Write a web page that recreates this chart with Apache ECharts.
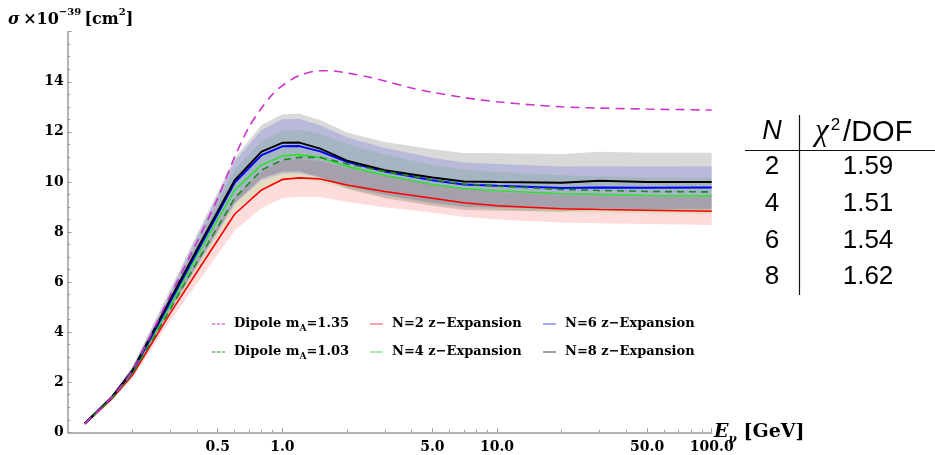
<!DOCTYPE html>
<html>
<head>
<meta charset="utf-8">
<script src="https://cdn.jsdelivr.net/npm/echarts@6/dist/echarts.min.js"></script>
<style>
  html, body { margin: 0; padding: 0; background: #fff; }
  #chart { width: 935px; height: 455px; }
</style>
</head>
<body>
<div id="chart"></div>
<script>
// Neutrino energy grid (GeV) used by the z-expansion fits and the mA = 1.03 dipole
const energyGeV = [0.12, 0.16, 0.2, 0.3, 0.4, 0.6, 0.8, 1.0, 1.2, 1.5, 2, 3, 5, 7, 10, 20, 30, 50, 100];

// Total cross sections in units of 10^-39 cm^2
const sigmaN2 = [0.33, 1.32, 2.28, 4.75, 6.40, 8.72, 9.68, 10.10, 10.16, 10.12, 9.88, 9.62, 9.35, 9.17, 9.05, 8.93, 8.90, 8.87, 8.83];
const sigmaN4 = [0.34, 1.36, 2.38, 5.05, 7.05, 9.68, 10.68, 11.04, 11.09, 10.97, 10.62, 10.27, 9.90, 9.74, 9.65, 9.53, 9.50, 9.46, 9.44];
const sigmaN6 = [0.35, 1.38, 2.42, 5.20, 7.20, 9.98, 11.07, 11.42, 11.43, 11.22, 10.80, 10.42, 10.07, 9.90, 9.85, 9.76, 9.78, 9.77, 9.78];
const sigmaN8 = [0.35, 1.39, 2.46, 5.30, 7.30, 10.07, 11.21, 11.56, 11.57, 11.33, 10.85, 10.47, 10.18, 10.02, 10.00, 9.97, 10.05, 10.00, 10.00];
const sigmaDipole103 = [0.34, 1.34, 2.34, 4.90, 6.80, 9.35, 10.47, 10.88, 10.98, 10.98, 10.72, 10.42, 10.08, 9.92, 9.83, 9.70, 9.66, 9.62, 9.60];

// Half-widths of the error bands of each z-expansion fit
const errN2 = [0.03, 0.07, 0.13, 0.30, 0.46, 0.66, 0.72, 0.75, 0.75, 0.72, 0.68, 0.63, 0.58, 0.56, 0.55, 0.55, 0.55, 0.55, 0.55];
const errN4 = [0.03, 0.08, 0.15, 0.36, 0.56, 0.82, 0.94, 1.00, 0.99, 0.95, 0.89, 0.83, 0.78, 0.76, 0.75, 0.74, 0.73, 0.72, 0.72];
const errN6 = [0.03, 0.08, 0.16, 0.38, 0.60, 0.86, 1.00, 1.08, 1.08, 1.04, 0.98, 0.93, 0.90, 0.88, 0.87, 0.86, 0.85, 0.85, 0.85];
const errN8 = [0.03, 0.08, 0.17, 0.40, 0.62, 0.90, 1.06, 1.14, 1.15, 1.14, 1.12, 1.12, 1.13, 1.14, 1.15, 1.15, 1.16, 1.17, 1.17];

// Dipole form factor with mA = 1.35 GeV, on a finer energy grid
const energyDipole135 = [0.12, 0.16, 0.2, 0.3, 0.4, 0.5, 0.6, 0.7, 0.8, 0.9, 1.0, 1.2, 1.5, 1.75, 2, 2.5, 3, 4, 5, 7, 10, 15, 20, 30, 50, 70, 100];
const sigmaDipole135 = [0.35, 1.39, 2.47, 5.45, 7.60, 9.35, 11.0, 12.2, 12.95, 13.5, 13.85, 14.25, 14.44, 14.43, 14.35, 14.2, 14.03, 13.75, 13.58, 13.37, 13.2, 13.07, 13.0, 12.95, 12.91, 12.89, 12.87];

// Axis ticks
const xMajorTicks = [0.5, 1, 5, 10, 50, 100];
const xAllTicks = [0.2, 0.3, 0.4, 0.5, 0.6, 0.7, 0.8, 0.9, 1, 2, 3, 4, 5, 6, 7, 8, 9, 10, 20, 30, 40, 50, 60, 70, 80, 90, 100];

// Fit quality table
const tableN = ['2', '4', '6', '8'];
const tableChi2 = ['1.59', '1.51', '1.54', '1.62'];

const SERIF = '"DejaVu Serif", "Liberation Serif", serif';
const SANS = '"Liberation Sans", "Noto Sans", sans-serif';

function pairs(xs, ys) { return xs.map((x, i) => [x, ys[i]]); }

function band(name, center, half, fill) {
  return {
    type: 'custom', name: name, silent: true, z: 1,
    data: [[energyGeV[0], center[0]]],
    renderItem: function (params, api) {
      const upper = energyGeV.map((e, i) => api.coord([e, center[i] + half[i]]));
      const lower = energyGeV.map((e, i) => api.coord([e, center[i] - half[i]])).reverse();
      return { type: 'polygon', shape: { points: upper.concat(lower) }, style: { fill: fill } };
    }
  };
}

function line(name, xs, ys, color, width, dash, smooth) {
  return {
    type: 'line', name: name, data: pairs(xs, ys), showSymbol: false, symbol: 'none',
    smooth: smooth || false, z: 3, silent: true,
    lineStyle: { color: color, width: width, type: dash || 'solid' }
  };
}

const tickFont = { fontFamily: SERIF, fontWeight: 'bold', fontSize: 14, color: '#000' };
const axisGray = '#9c9c9c';

const legendTextStyle = {
  fontFamily: SERIF, fontWeight: 'bold', fontSize: 13, color: '#000', lineHeight: 18,
  padding: [0, 0, 0, 4],
  rich: { sub: { fontFamily: SERIF, fontWeight: 'bold', fontSize: 9, verticalAlign: 'bottom', lineHeight: 13, color: '#000' } }
};
const dashIcon = 'path://M0,0H3V1H0Z M4.5,0H7.5V1H4.5Z M9,0H12V1H9Z';
function legendItem(name, icon, color) {
  return {
    name: name, icon: icon,
    itemStyle: { color: color, borderWidth: 0, borderColor: color },
    lineStyle: { width: 0, opacity: 0 }
  };
}
function legendBlock(left, items) {
  return {
    left: left, top: 310, orient: 'vertical', itemGap: 10, itemWidth: 13, itemHeight: 2,
    selectedMode: false, textStyle: legendTextStyle,
    formatter: n => n.replace('m_A', 'm{sub|A}'),
    data: items
  };
}

const chart = echarts.init(document.getElementById('chart'), null, { renderer: 'canvas' });

chart.setOption({
  animation: false,
  backgroundColor: '#fff',
  grid: { left: 67.7, right: 223.3, top: 31.7, bottom: 22.7 },
  xAxis: [
    {
      type: 'log', logBase: 10, min: 0.1, max: 100,
      axisLine: { lineStyle: { color: axisGray, width: 1.5 } },
      axisTick: { show: true, inside: true, length: 4, customValues: xMajorTicks, lineStyle: { color: axisGray, width: 1 } },
      axisLabel: { show: true, margin: 8, customValues: xMajorTicks, formatter: v => Number(v).toFixed(1), ...tickFont },
      splitLine: { show: false }, minorTick: { show: false }, minorSplitLine: { show: false }
    },
    {
      type: 'log', logBase: 10, min: 0.1, max: 100, position: 'bottom',
      axisLine: { show: false },
      axisTick: { show: true, inside: true, length: 2.5, customValues: xAllTicks, lineStyle: { color: axisGray, width: 1 } },
      axisLabel: { show: false },
      splitLine: { show: false }
    }
  ],
  yAxis: {
    type: 'value', min: 0, max: 16, interval: 2,
    axisLine: { show: true, lineStyle: { color: axisGray, width: 1.5 } },
    axisTick: { show: true, inside: true, length: 4, lineStyle: { color: axisGray, width: 1 } },
    minorTick: { show: true, splitNumber: 4, length: 2.5, lineStyle: { color: axisGray, width: 1 } },
    axisLabel: { margin: 4, formatter: v => (v >= 16 ? '' : String(v)), ...tickFont },
    splitLine: { show: false }, minorSplitLine: { show: false }
  },
  legend: [
    legendBlock(207, [
      legendItem('Dipole m_A=1.35', dashIcon, '#cc33cc'),
      legendItem('Dipole m_A=1.03', dashIcon, '#228b22')
    ]),
    legendBlock(365, [
      legendItem('N=2 z\u2212Expansion', 'rect', '#f5a6a6'),
      legendItem('N=4 z\u2212Expansion', 'rect', '#a9eca9')
    ]),
    legendBlock(538, [
      legendItem('N=6 z\u2212Expansion', 'rect', '#a9a9f2'),
      legendItem('N=8 z\u2212Expansion', 'rect', '#a3a3a3')
    ])
  ],
  series: [
    band('band N=2', sigmaN2, errN2, 'rgba(255,50,50,0.17)'),
    band('band N=4', sigmaN4, errN4, 'rgba(90,220,60,0.17)'),
    band('band N=6', sigmaN6, errN6, 'rgba(50,50,255,0.18)'),
    band('band N=8', sigmaN8, errN8, 'rgba(0,0,0,0.15)'),
    line('N=2 z\u2212Expansion', energyGeV, sigmaN2, '#ff0000', 1.6),
    line('N=4 z\u2212Expansion', energyGeV, sigmaN4, '#33dd33', 1.6),
    line('N=6 z\u2212Expansion', energyGeV, sigmaN6, '#0000ff', 2),
    line('N=8 z\u2212Expansion', energyGeV, sigmaN8, '#000000', 2),
    line('Dipole m_A=1.03', energyGeV, sigmaDipole103, '#1f8a1f', 1.6, [7, 5]),
    line('Dipole m_A=1.35', energyDipole135, sigmaDipole135, '#cc33cc', 1.6, [9, 6], 0.3)
  ],
  graphic: [
    // y-axis title
    {
      type: 'text', x: 8, y: 7, silent: true,
      style: {
        text: '{i|\u03c3} {b|\u00d710}{sup|\u221239} {b|[cm}{sup|2}{b|]}',
        align: 'left', verticalAlign: 'top',
        rich: {
          i: { fontFamily: SERIF, fontStyle: 'italic', fontWeight: 'bold', fontSize: 16, lineHeight: 21, verticalAlign: 'bottom', fill: '#000' },
          b: { fontFamily: SERIF, fontWeight: 'bold', fontSize: 16, lineHeight: 21, verticalAlign: 'bottom', fill: '#000' },
          sup: { fontFamily: SERIF, fontWeight: 'bold', fontSize: 10, lineHeight: 10, verticalAlign: 'top', fill: '#000' }
        }
      }
    },
    // x-axis title
    {
      type: 'text', x: 714, y: 423, silent: true,
      style: {
        text: '{i|E}{sub|\u03bd}{b| [GeV]}',
        align: 'left', verticalAlign: 'top',
        rich: {
          i: { fontFamily: SERIF, fontStyle: 'italic', fontWeight: 'bold', fontSize: 19, lineHeight: 23, verticalAlign: 'top', fill: '#000' },
          b: { fontFamily: SERIF, fontWeight: 'bold', fontSize: 19, lineHeight: 23, verticalAlign: 'top', fill: '#000' },
          sub: { fontFamily: SERIF, fontStyle: 'italic', fontWeight: 'bold', fontSize: 12, lineHeight: 12, verticalAlign: 'bottom', fill: '#000' }
        }
      }
    },
    // fit quality table
    { type: 'line', silent: true, shape: { x1: 745, y1: 150.5, x2: 935, y2: 150.5 }, style: { stroke: '#111', lineWidth: 1.2 } },
    { type: 'line', silent: true, shape: { x1: 799.5, y1: 115, x2: 799.5, y2: 295 }, style: { stroke: '#111', lineWidth: 1.2 } },
    { type: 'text', x: 772, y: 131, silent: true,
      style: { text: 'N', fontFamily: SANS, fontStyle: 'italic', fontSize: 27, fill: '#000', align: 'center', verticalAlign: 'middle' } },
    { type: 'text', x: 815, y: 117, silent: true,
      style: {
        text: '{c|\u03c7}{s|2}{d|/DOF}', align: 'left', verticalAlign: 'top',
        rich: {
          c: { fontFamily: '"Liberation Serif", serif', fontStyle: 'italic', fontSize: 31, lineHeight: 30, verticalAlign: 'bottom', fill: '#000' },
          s: { fontFamily: SANS, fontSize: 17, lineHeight: 17, verticalAlign: 'top', fill: '#000', padding: [0, 3, 0, 2] },
          d: { fontFamily: SANS, fontSize: 29, lineHeight: 30, verticalAlign: 'bottom', fill: '#000' }
        }
      }
    },
    ...tableN.map((n, i) => ({
      type: 'text', x: 772, y: 167 + i * 36.7, silent: true,
      style: { text: n, fontFamily: SANS, fontSize: 26, fill: '#000', align: 'center', verticalAlign: 'middle' }
    })),
    ...tableChi2.map((c, i) => ({
      type: 'text', x: 868, y: 167 + i * 36.7, silent: true,
      style: { text: c, fontFamily: SANS, fontSize: 26, fill: '#000', align: 'center', verticalAlign: 'middle' }
    }))
  ]
});
</script>
</body>
</html>
